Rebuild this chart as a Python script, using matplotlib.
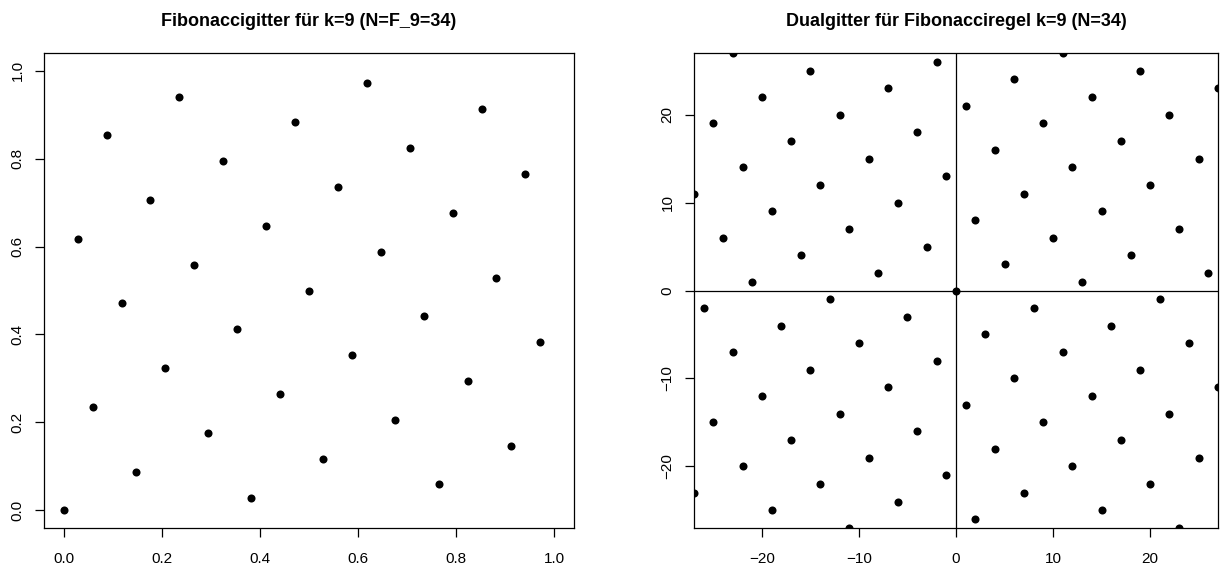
import matplotlib
matplotlib.use("Agg")
import matplotlib.pyplot as plt

plt.rcParams['font.family'] = ['Liberation Sans', 'DejaVu Sans']

fib_x = [0.000, 0.029, 0.059, 0.088, 0.118, 0.147, 0.176, 0.206, 0.235, 0.265,
         0.294, 0.324, 0.353, 0.382, 0.412, 0.441, 0.471, 0.500, 0.529, 0.559,
         0.588, 0.618, 0.647, 0.676, 0.706, 0.735, 0.765, 0.794, 0.824, 0.853,
         0.882, 0.912, 0.941, 0.971]
fib_y = [0.000, 0.618, 0.235, 0.853, 0.471, 0.088, 0.706, 0.324, 0.941, 0.559,
         0.176, 0.794, 0.412, 0.029, 0.647, 0.265, 0.882, 0.500, 0.118, 0.735,
         0.353, 0.971, 0.588, 0.206, 0.824, 0.441, 0.059, 0.676, 0.294, 0.912,
         0.529, 0.147, 0.765, 0.382]

# Dualgitter (ganzzahlige Punkte im Fenster [-27, 27]^2)
dual_x = [0,
          13, -21, 26, -8, 5, 18, -16, -3, 10, -24, 23, -11, 2, 15, -19, -6,
          7, -27, 20, -14, -1, 12, -22, 25, -9, 4, 17, -17, -4, 9, -25, 22, -12,
          1, 14, -20, 27, -7, 6, 19, -15, -2, 11, -23,
          -13, 21, -26, 8, -5, -18, 16, 3, -10, 24, -23, 11, -2, -15, 19, 6,
          -7, 27, -20, 14, 1, -12, 22, -25, 9, -4, -17, 17, 4, -9, 25, -22, 12,
          -1, -14, 20, -27, 7, -6, -19, 15, 2, -11, 23]
dual_y = [0,
          1, 1, 2, 2, 3, 4, 4, 5, 6, 6, 7, 7, 8, 9, 9, 10,
          11, 11, 12, 12, 13, 14, 14, 15, 15, 16, 17, 17, 18, 19, 19, 20, 20,
          21, 22, 22, 23, 23, 24, 25, 25, 26, 27, 27,
          -1, -1, -2, -2, -3, -4, -4, -5, -6, -6, -7, -7, -8, -9, -9, -10,
          -11, -11, -12, -12, -13, -14, -14, -15, -15, -16, -17, -17, -18, -19, -19, -20, -20,
          -21, -22, -22, -23, -23, -24, -25, -25, -26, -27, -27]

W, H = 1227, 567
fig = plt.figure(figsize=(W / 100, H / 100), dpi=100)


def px_axes(x0, y0, x1, y1):
    return fig.add_axes([x0 / W, 1 - y1 / H, (x1 - x0) / W, (y1 - y0) / H])


def style(ax):
    for s in ax.spines.values():
        s.set_linewidth(0.9)
        s.set_color('black')
    ax.tick_params(direction='out', length=6.5, width=0.9,
                   labelsize=11, colors='black')
    ax.tick_params(axis='x', pad=10.5)
    ax.tick_params(axis='y', pad=7.5)
    for lab in ax.get_yticklabels():
        lab.set_rotation(90)
        lab.set_va('center')


# linkes Bild
ax1 = px_axes(44, 53, 574, 528)
ax1.plot(fib_x, fib_y, 'o', color='black', ms=5.8, mew=0)
ax1.set_xlim(-0.04, 1.04)
ax1.set_ylim(-0.04, 1.04)
ax1.set_xticks([0.0, 0.2, 0.4, 0.6, 0.8, 1.0])
ax1.set_yticks([0.0, 0.2, 0.4, 0.6, 0.8, 1.0])
ax1.set_xticklabels(['0.0', '0.2', '0.4', '0.6', '0.8', '1.0'])
ax1.set_yticklabels(['0.0', '0.2', '0.4', '0.6', '0.8', '1.0'])
style(ax1)
fig.text(309 / W, 1 - 22 / H, 'Fibonaccigitter für k=9 (N=F_9=34)',
         ha='center', va='center', fontsize=13, fontweight='bold')

# rechtes Bild
ax2 = px_axes(694, 53, 1218, 528)
ax2.axhline(0, color='black', lw=0.9)
ax2.axvline(0, color='black', lw=0.9)
ax2.plot(dual_x, dual_y, 'o', color='black', ms=5.8, mew=0)
ax2.set_xlim(-27, 27)
ax2.set_ylim(-27, 27)
ax2.set_xticks([-20, -10, 0, 10, 20])
ax2.set_yticks([-20, -10, 0, 10, 20])
style(ax2)
fig.text(956 / W, 1 - 22 / H, 'Dualgitter für Fibonacciregel k=9 (N=34)',
         ha='center', va='center', fontsize=13, fontweight='bold')

fig.savefig('out.png', dpi=100)
